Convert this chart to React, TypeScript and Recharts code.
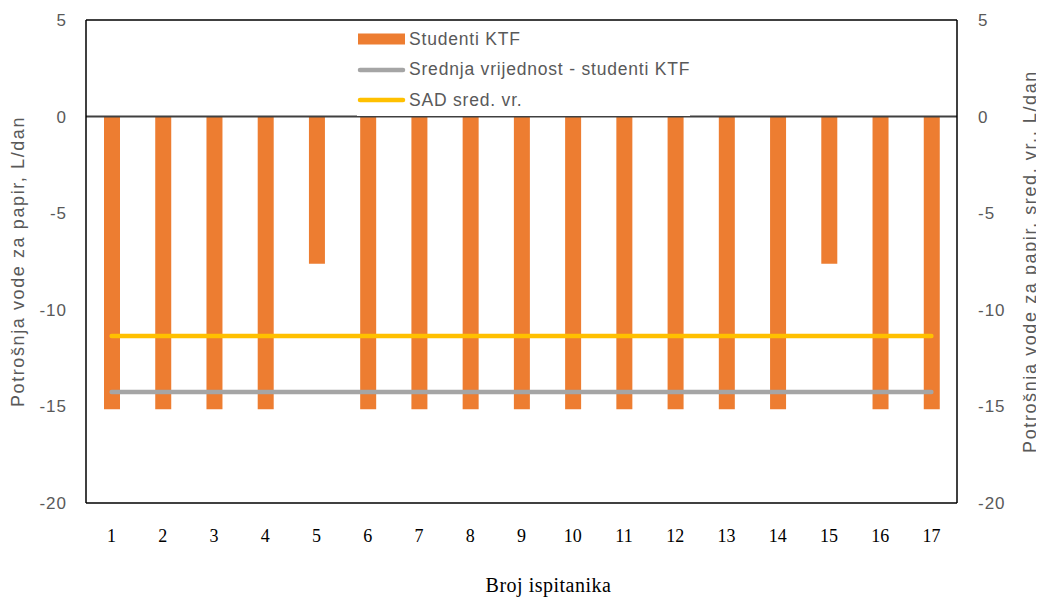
// Potrošnja vode za papir po ispitaniku, sa srednjim vrijednostima.
import { ComposedChart, Bar, Line, XAxis, YAxis, ReferenceLine, Legend, Label } from 'recharts';

const subjects = ['1', '2', '3', '4', '5', '6', '7', '8', '9', '10', '11', '12', '13', '14', '15', '16', '17'];
const studentValues = [-15.15, -15.15, -15.15, -15.15, -7.62, -15.15, -15.15, -15.15, -15.15, -15.15, -15.15, -15.15, -15.15, -15.15, -7.62, -15.15, -15.15];
const studentMean = [-14.25, -14.25, -14.25, -14.25, -14.25, -14.25, -14.25, -14.25, -14.25, -14.25, -14.25, -14.25, -14.25, -14.25, -14.25, -14.25, -14.25];
const usaMean = [-11.35, -11.35, -11.35, -11.35, -11.35, -11.35, -11.35, -11.35, -11.35, -11.35, -11.35, -11.35, -11.35, -11.35, -11.35, -11.35, -11.35];
const yTicks = [-20, -15, -10, -5, 0, 5];

const data = subjects.map((s, i) => ({
  subject: s,
  students: studentValues[i],
  mean: studentMean[i],
  usa: usaMean[i],
}));

const ORANGE = '#ED7D31';
const GRAY = '#A5A5A5';
const YELLOW = '#FFC000';
const TEXT = '#595959';
const SANS = '"Liberation Sans", Arial, sans-serif';
const SERIF = '"Liberation Serif", "Times New Roman", serif';

const legendItems = [
  { label: 'Studenti KTF', color: ORANGE, kind: 'bar' },
  { label: 'Srednja vrijednost - studenti KTF', color: GRAY, kind: 'line' },
  { label: 'SAD sred. vr.', color: YELLOW, kind: 'line' },
];

const renderLegend = () => (
  <div style={{ fontFamily: SANS, fontSize: 17.5, letterSpacing: 0.8, color: TEXT, background: '#fff' }}>
    {legendItems.map((it) => (
      <div key={it.label} style={{ display: 'flex', alignItems: 'center', height: 30.5, whiteSpace: 'nowrap' }}>
        <svg width={50} height={14} style={{ marginRight: 2 }}>
          {it.kind === 'bar' ? (
            <rect x={1} y={1.5} width={47} height={11} fill={it.color} />
          ) : (
            <line x1={3} y1={7} x2={46} y2={7} stroke={it.color} strokeWidth={4.5} strokeLinecap="round" />
          )}
        </svg>
        <span>{it.label}</span>
      </div>
    ))}
  </div>
);

const yTickStyle = { fill: TEXT, fontSize: 17, fontFamily: SANS, letterSpacing: 1 };
const axisTitleStyle = { fill: TEXT, fontSize: 18, fontFamily: SANS, letterSpacing: 1.6 };

export default function App() {
  return (
    <ComposedChart
      width={1036}
      height={590}
      data={data}
      margin={{ top: 12, right: 0, bottom: 0, left: 0 }}
      barSize={16}
    >
      <XAxis
        dataKey="subject"
        height={95}
        tickSize={0}
        tickMargin={26}
        tickLine={false}
        axisLine={{ stroke: '#000', strokeWidth: 1.5 }}
        tick={{ fill: '#000', fontSize: 18, fontFamily: SERIF }}
        interval={0}
      >
        <Label
          value="Broj ispitanika"
          position="insideBottom"
          offset={6}
          dx={27}
          style={{ fill: '#000', fontSize: 20, fontFamily: SERIF, letterSpacing: 0.5 }}
        />
      </XAxis>
      <YAxis
        yAxisId="left"
        width={78}
        domain={[-20, 5]}
        ticks={yTicks}
        tickSize={0}
        tickMargin={19}
        tickLine={false}
        axisLine={{ stroke: '#000', strokeWidth: 1.5 }}
        tick={yTickStyle}
      >
        <Label
          value="Potrošnja vode za papir, L/dan"
          angle={-90}
          position="center"
          dx={-29}
          style={axisTitleStyle}
        />
      </YAxis>
      <YAxis
        yAxisId="right"
        orientation="right"
        width={87}
        domain={[-20, 5]}
        ticks={yTicks}
        tickSize={0}
        tickMargin={21}
        tickLine={false}
        axisLine={{ stroke: '#000', strokeWidth: 1.5 }}
        tick={yTickStyle}
      >
        <Label
          value="Potrošnja vode za papir, sred. vr., L/dan"
          angle={-90}
          position="center"
          dx={29.5}
          style={axisTitleStyle}
        />
      </YAxis>
      <Legend
        layout="horizontal"
        verticalAlign="middle"
        align="center"
        content={renderLegend}
        wrapperStyle={{ position: 'absolute', left: 349, top: 16, width: 'auto' }}
      />
      <ReferenceLine yAxisId="left" y={5} stroke="#000" strokeWidth={1.5} />
      <Bar yAxisId="left" dataKey="students" fill={ORANGE} isAnimationActive={false} />
      <Line
        yAxisId="right"
        dataKey="usa"
        stroke={YELLOW}
        strokeWidth={4.5}
        strokeLinecap="round"
        dot={false}
        activeDot={false}
        isAnimationActive={false}
      />
      <Line
        yAxisId="right"
        dataKey="mean"
        stroke={GRAY}
        strokeWidth={4.5}
        strokeLinecap="round"
        dot={false}
        activeDot={false}
        isAnimationActive={false}
      />
      <ReferenceLine yAxisId="left" y={0} stroke="#404040" strokeWidth={2} />
    </ComposedChart>
  );
}
